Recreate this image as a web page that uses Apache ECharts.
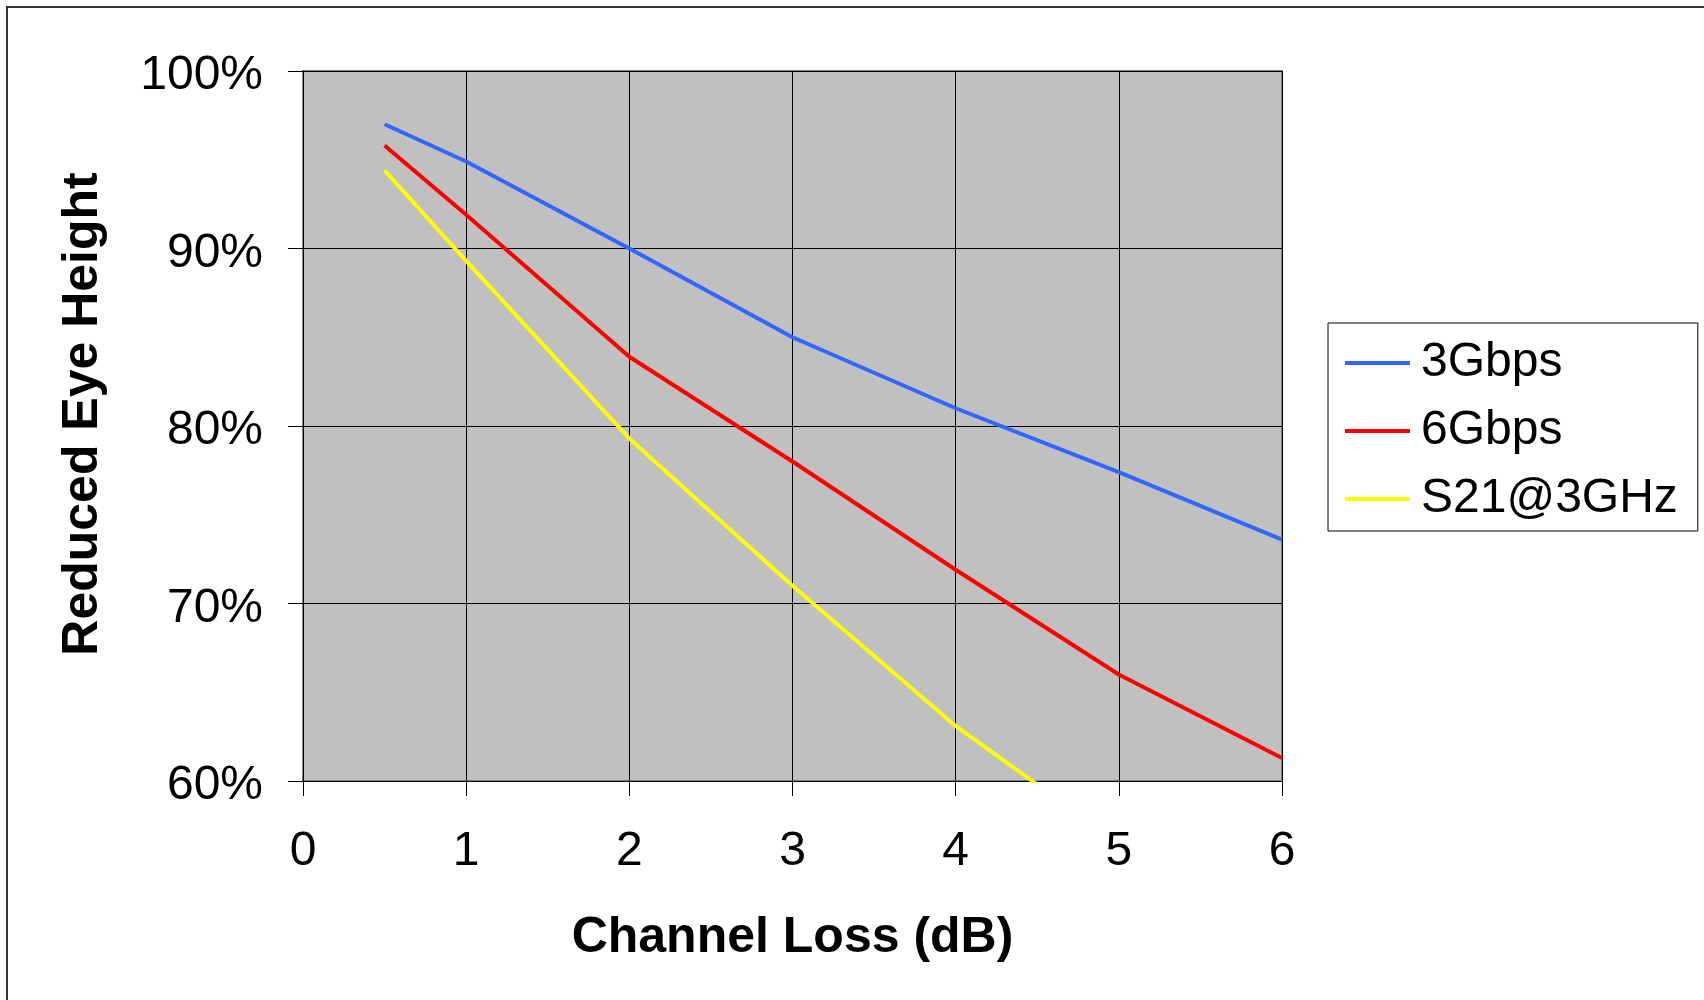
<!DOCTYPE html>
<html>
<head>
<meta charset="utf-8">
<script src="https://cdn.jsdelivr.net/npm/echarts@6/dist/echarts.min.js"></script>
<style>
html,body{margin:0;padding:0;background:#fff;}
#chart{width:1704px;height:1000px;}
</style>
</head>
<body>
<div id="chart"></div>
<script>
// Channel loss (dB) values where points were sampled
const channelLoss = [0.5, 1, 2, 3, 4, 5, 6];
// Reduced eye height (%)
const gbps3 = [97.0, 94.9, 90.0, 85.0, 81.0, 77.4, 73.6];
const gbps6 = [95.8, 91.9, 83.9, 78.0, 71.9, 66.0, 61.3];
const s21at3GHz = [94.4, 89.3, 79.3, 71.0, 63.1, 56.5, null];
const seriesNames = ['3Gbps', '6Gbps', 'S21@3GHz'];
const xTicks = [0, 1, 2, 3, 4, 5, 6];
const yTicks = [60, 70, 80, 90, 100];

const FONT = '"Liberation Sans", Arial, sans-serif';
const pairs = vals => channelLoss.map((x, i) => [x, vals[i]]);

const chart = echarts.init(document.getElementById('chart'));
chart.setOption({
  animation: false,
  backgroundColor: '#ffffff',
  textStyle: { fontFamily: FONT, color: '#000' },
  graphic: [{
    type: 'rect',
    shape: { x: 7, y: 7, width: 1800, height: 1100 },
    style: { fill: 'none', stroke: '#333', lineWidth: 2 },
    silent: true, z: -10
  }],
  grid: {
    left: 303, top: 71, right: 422, bottom: 219,
    show: true, backgroundColor: '#C0C0C0',
    borderColor: '#808080', borderWidth: 2
  },
  legend: {
    orient: 'vertical',
    left: 1328, top: 323,
    padding: [16, 20, 8, 17],
    itemGap: 20,
    itemWidth: 65, itemHeight: 4,
    icon: 'rect',
    borderColor: '#000', borderWidth: 1,
    backgroundColor: '#fff',
    textStyle: { fontFamily: FONT, fontSize: 48, color: '#000', lineHeight: 48, padding: [0, 0, 0, 6] },
    data: seriesNames
  },
  xAxis: {
    type: 'value',
    min: xTicks[0], max: xTicks[xTicks.length - 1], interval: 1,
    name: 'Channel Loss (dB)',
    nameLocation: 'middle', nameGap: 132,
    nameTextStyle: { fontFamily: FONT, fontSize: 50, fontWeight: 'bold', color: '#000' },
    axisLine: { show: true, onZero: false, lineStyle: { color: '#000', width: 1 } },
    axisTick: { show: true, length: 15, inside: false, lineStyle: { color: '#000' } },
    axisLabel: { fontFamily: FONT, fontSize: 48, color: '#000', margin: 47 },
    splitLine: { show: true, lineStyle: { color: '#000', width: 1 } }
  },
  yAxis: {
    type: 'value',
    min: yTicks[0], max: yTicks[yTicks.length - 1], interval: 10,
    name: 'Reduced Eye Height',
    nameLocation: 'middle', nameGap: 195, nameRotate: 90,
    nameTextStyle: { fontFamily: FONT, fontSize: 50, fontWeight: 'bold', color: '#000', padding: [0, 0, 0, 24] },
    axisLine: { show: true, lineStyle: { color: '#000', width: 1 } },
    axisTick: { show: true, length: 15, inside: false, lineStyle: { color: '#000' } },
    axisLabel: { fontFamily: FONT, fontSize: 48, color: '#000', margin: 40, formatter: '{value}%',
      verticalAlign: 'top', lineHeight: 10 },
    splitLine: { show: true, lineStyle: { color: '#000', width: 1 } }
  },
  series: [
    { name: seriesNames[0], type: 'line', data: pairs(gbps3), symbol: 'none', clip: true,
      lineStyle: { color: '#3366FF', width: 4 }, itemStyle: { color: '#3366FF' } },
    { name: seriesNames[1], type: 'line', data: pairs(gbps6), symbol: 'none', clip: true,
      lineStyle: { color: '#FF0000', width: 4 }, itemStyle: { color: '#FF0000' } },
    { name: seriesNames[2], type: 'line', data: pairs(s21at3GHz), symbol: 'none', clip: true,
      lineStyle: { color: '#FFFF00', width: 4 }, itemStyle: { color: '#FFFF00' } }
  ]
});
</script>
</body>
</html>
